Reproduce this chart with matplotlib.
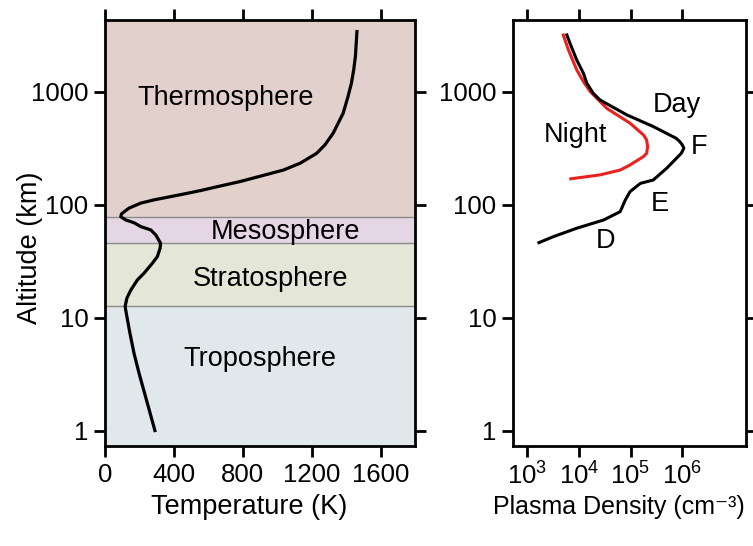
import matplotlib.pyplot as plt
import numpy as np

plt.rcParams.update({
    "font.family": ["Liberation Sans", "DejaVu Sans"],
    "font.size": 18.5,
    "mathtext.fontset": "custom",
    "mathtext.rm": "Liberation Sans",
    "mathtext.it": "Liberation Sans:italic",
    "axes.linewidth": 2.0,
    "xtick.major.width": 2.0,
    "ytick.major.width": 2.0,
    "xtick.major.size": 8,
    "ytick.major.size": 8,
    "xtick.direction": "out",
    "ytick.direction": "out",
})

# temperature profile (K) vs altitude (km)
temp_k = [290, 198, 169, 145, 131, 117, 127, 150, 188, 227, 275, 304, 320, 323,
          295, 266, 208, 169, 121, 92, 96, 112, 140, 208, 285, 362, 458, 555,
          670, 786, 1036, 1133, 1229, 1277, 1325, 1354, 1383, 1411, 1431,
          1444, 1454, 1463]
temp_alt = [1.0, 3.21, 4.8, 7.26, 9.5, 12.5, 14.8, 17.5, 21.5, 24.7, 30.2,
            34.6, 41.0, 45.5, 53.8, 59.6, 63.8, 69, 73, 78, 82.6, 86.5, 93,
            103, 110, 116, 124, 133, 146, 160, 202, 232, 284, 337, 428, 525,
            643, 902, 1186, 1550, 2038, 3395]

# atmospheric layers
layer_names = ["Troposphere", "Stratosphere", "Mesosphere", "Thermosphere"]
layer_bounds = [0.5, 12.7, 45.4, 78, 5000]
layer_colors = ["#e1e8eb", "#e4e6d7", "#e4d6e4", "#e2d0cd"]
layer_label_pos = [(901, 4.27), (961, 21.8), (1051, 57.6), (699, 873)]

# plasma density (log10 cm^-3) vs altitude (km)
day_logn = [3.23, 3.51, 3.96, 4.48, 4.80, 4.90, 4.99, 5.19, 5.44, 5.70, 5.98,
            6.03, 6.0, 5.95, 5.88, 5.44, 4.93, 4.41, 4.28, 4.155, 4.09, 3.96,
            3.83, 3.77]
day_alt = [46, 52, 61.7, 73, 86.5, 110, 130, 154, 165, 210, 284, 315, 337,
           361, 386, 490, 621, 843, 966, 1186, 1452, 1905, 2680, 3170]
night_logn = [3.845, 4.41, 4.80, 4.99, 5.25, 5.31, 5.33, 5.31, 5.25, 4.99,
              4.74, 4.54, 4.22, 4.09, 3.96, 3.80, 3.70]
night_alt = [169, 183, 202, 224, 266, 284, 326, 373, 413, 525, 621, 711, 1000,
             1224, 1556, 2339, 3170]

region_labels = ["Day", "Night", "F", "E", "D"]
region_pos = [(5.9, 760), (3.93, 413), (6.33, 326), (5.56, 101), (4.51, 48)]

alt_ticks = [1, 10, 100, 1000]
temp_ticks = [0, 400, 800, 1200, 1600]
dens_ticks = [3, 4, 5, 6]

fig = plt.figure(figsize=(7.53, 5.46), dpi=100)
ax1 = fig.add_axes([0.1394, 0.1832, 0.4117, 0.7802])
ax2 = fig.add_axes([0.6813, 0.1832, 0.3094, 0.7802])

YLIM = (0.73, 4300)

# --- left: temperature ---
for i, name in enumerate(layer_names):
    ax1.axhspan(layer_bounds[i], layer_bounds[i + 1], color=layer_colors[i],
                lw=0, zorder=0)
for b in layer_bounds[1:-1]:
    ax1.axhline(b, color="#8a8a8a", lw=1.0, zorder=1)
for name, (x, y) in zip(layer_names, layer_label_pos):
    ax1.text(x, y, name, ha="center", va="center", fontsize=19.5, zorder=3)
ax1.plot(temp_k, temp_alt, color="black", lw=2.3, zorder=4,
         solid_joinstyle="round")

ax1.set_yscale("log")
ax1.set_ylim(*YLIM)
ax1.set_xlim(0, 1800)
ax1.set_xticks(temp_ticks)
ax1.set_yticks(alt_ticks, labels=[str(t) for t in alt_ticks])
ax1.minorticks_off()
ax1.tick_params(top=True, right=True, pad=4)
ax1.set_xlabel("Temperature (K)", fontsize=19.5)
ax1.set_ylabel("Altitude (km)", fontsize=19.5)
ax1.xaxis.set_label_coords(0.465, -0.143)
ax1.xaxis.label.set_va("center")
ax1.yaxis.set_label_coords(-0.242, 0.465)
ax1.yaxis.label.set_va("center")

# --- right: plasma density ---
ax2.plot(10.0 ** np.array(night_logn), night_alt, color="#e8221f", lw=2.2,
         solid_joinstyle="round")
ax2.plot(10.0 ** np.array(day_logn), day_alt, color="black", lw=2.2,
         solid_joinstyle="round")
for name, (x, y) in zip(region_labels, region_pos):
    ax2.text(10.0 ** x, y, name, ha="center", va="center", fontsize=19.5)

ax2.set_xscale("log")
ax2.set_yscale("log")
ax2.set_ylim(*YLIM)
ax2.set_xlim(10 ** 2.73, 10 ** 7.23)
ax2.set_xticks([10.0 ** d for d in dens_ticks],
               labels=[r"$\mathregular{10^{%d}}$" % d for d in dens_ticks])
ax2.set_yticks(alt_ticks, labels=[str(t) for t in alt_ticks])
ax2.minorticks_off()
ax2.tick_params(top=True, right=True, pad=4)
ax2.set_xlabel("Plasma Density (cm\u207b\u00b3)", fontsize=18)
ax2.xaxis.set_label_coords(0.455, -0.143)
ax2.xaxis.label.set_va("center")

fig.savefig("out.png", dpi=100)
